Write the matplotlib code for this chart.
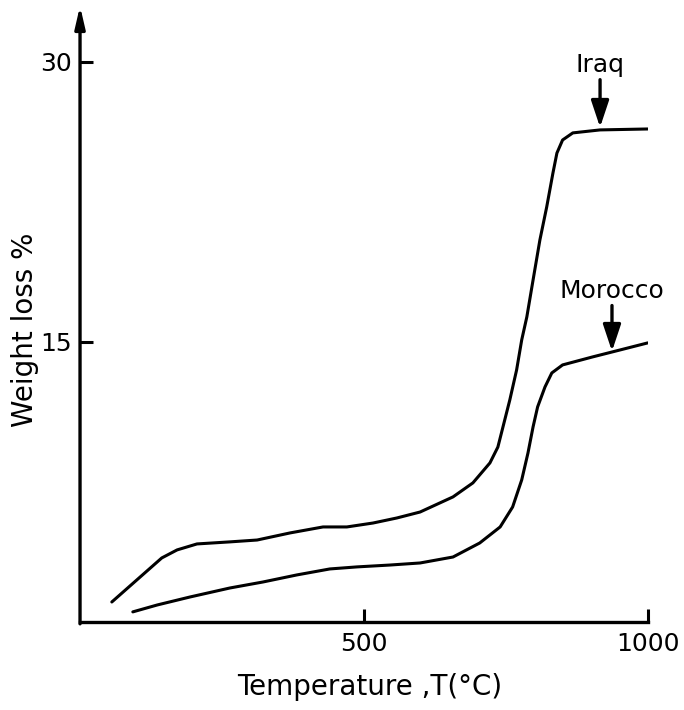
import matplotlib
matplotlib.use("Agg")
import matplotlib.pyplot as plt

# data (temperature in degC, weight loss in %)
iraq_t = [56, 100, 144, 171, 206, 264, 312, 370, 428, 470, 516, 558, 599, 657, 692,
          722, 736, 745, 757, 769, 778, 787, 798, 810, 822, 833, 840, 850, 868, 916, 1000]
iraq_w = [1.07, 2.25, 3.43, 3.86, 4.18, 4.29, 4.39, 4.77, 5.09, 5.09, 5.30, 5.57, 5.89, 6.70, 7.45,
          8.52, 9.37, 10.45, 11.89, 13.50, 15.11, 16.34, 18.32, 20.46, 22.23, 24.05, 25.12, 25.82, 26.20, 26.36, 26.41]

morocco_t = [93, 136, 194, 264, 322, 382, 440, 488, 546, 599, 657, 704, 740, 762, 778,
             789, 798, 806, 819, 831, 850, 903, 951, 1000]
morocco_w = [0.54, 0.91, 1.34, 1.82, 2.14, 2.52, 2.84, 2.95, 3.05, 3.16, 3.48, 4.23, 5.09, 6.16, 7.61,
             9.05, 10.45, 11.52, 12.59, 13.34, 13.77, 14.20, 14.57, 14.95]

x_ticks = [500, 1000]
y_ticks = [15, 30]

plt.rcParams["font.family"] = "DejaVu Sans"

fig = plt.figure(figsize=(6.84, 7.10), dpi=100)
ax = fig.add_axes([0.117, 0.124, 0.830, 0.8676])

ax.plot(iraq_t, iraq_w, color="black", lw=2.2, solid_capstyle="round", solid_joinstyle="round")
ax.plot(morocco_t, morocco_w, color="black", lw=2.2, solid_capstyle="round", solid_joinstyle="round")

ax.set_xlim(0, 1000)
ax.set_ylim(0, 33)

# only the bottom spine, y axis drawn as an arrow
for s in ["top", "right", "left"]:
    ax.spines[s].set_visible(False)
ax.spines["bottom"].set_linewidth(2.4)
ax.annotate("", xy=(0, 33), xytext=(0, -0.1), xycoords="data",
            arrowprops=dict(arrowstyle="-|>,head_length=1.3,head_width=0.3",
                            lw=2.4, color="black", shrinkA=0, shrinkB=0),
            annotation_clip=False)

ax.set_xticks(x_ticks)
ax.set_yticks(y_ticks)
ax.tick_params(axis="both", direction="in", length=9.5, width=2.2, labelsize=18)
ax.tick_params(axis="x", pad=7)
ax.tick_params(axis="y", pad=6)

ax.set_xlabel("Temperature ,T(°C)", fontsize=20, va="center")
ax.set_ylabel("Weight loss %", fontsize=20, va="center")
ax.xaxis.set_label_coords(0.51, -0.1055)
ax.yaxis.set_label_coords(-0.097, 0.474)

# sample labels with arrows
arrow_kw = dict(arrowstyle="-|>,head_length=0.9,head_width=0.3", lw=2.4,
                color="black", shrinkA=0, shrinkB=0)
ax.annotate("Iraq", xy=(916, 26.5), xytext=(916, 29.2), ha="center", va="bottom",
            fontsize=18, arrowprops=arrow_kw)
ax.annotate("Morocco", xy=(937, 14.5), xytext=(937, 17.1), ha="center", va="bottom",
            fontsize=18, arrowprops=arrow_kw, annotation_clip=False)

fig.savefig("out.png", dpi=100)
